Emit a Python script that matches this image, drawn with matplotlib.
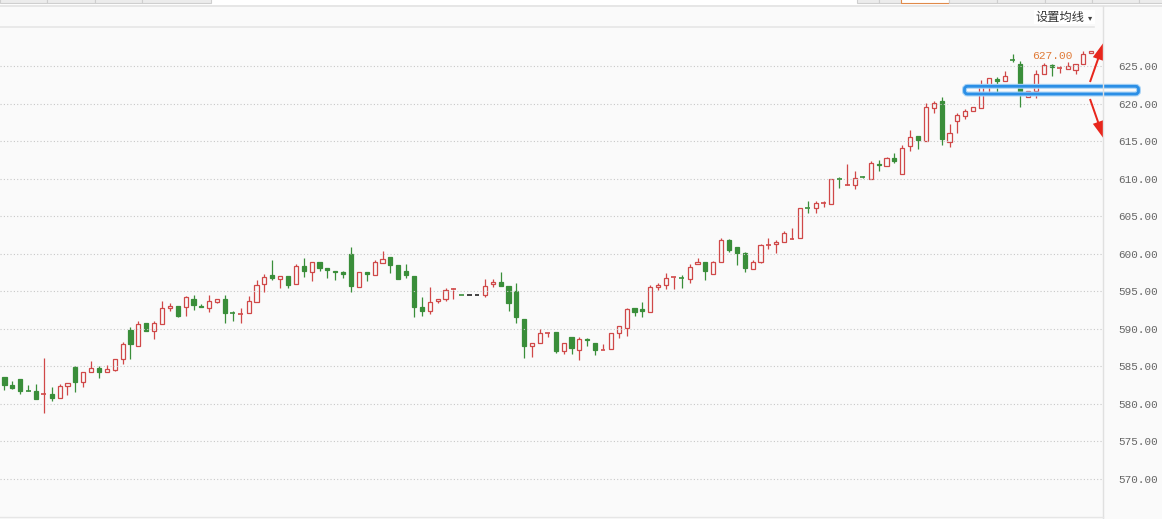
import matplotlib.pyplot as plt
from matplotlib.patches import Rectangle, FancyArrow, FancyBboxPatch
from matplotlib.lines import Line2D

# daily K-line data (open, high, low, close)
opens = [583.58, 582.52, 583.32, 581.72, 581.73, 581.28, 581.33, 580.75, 582.35, 584.96,
         582.88, 584.2, 584.78, 584.2, 584.51, 585.93, 589.82, 587.74, 590.75, 589.65,
         590.58, 592.74, 593.0, 592.96, 594.03, 593.1, 592.79, 593.58, 593.94, 592.15,
         591.98, 592.17, 593.63, 596.02, 597.12, 596.64, 596.99, 596.02, 598.32, 597.62,
         598.94, 598.06, 597.75, 597.57, 600.0, 595.63, 597.62, 597.22, 598.81, 599.51,
         598.45, 597.66, 597.0, 592.89, 592.32, 593.64, 593.91, 595.2, 594.46, 594.44,
         594.44, 594.44, 595.94, 596.29, 595.67, 595.01, 591.3, 587.68, 588.08, 589.45,
         589.54, 586.98, 588.87, 587.15, 588.65, 588.08, 587.22, 587.28, 589.4, 590.15,
         592.72, 592.58, 592.19, 595.59, 595.89, 596.87, 596.75, 596.69, 598.68, 598.94,
         597.35, 598.94, 601.85, 600.93, 600.04, 598.01, 598.85, 601.13, 601.24, 601.5,
         601.97, 602.04, 606.17, 606.15, 606.7, 606.68, 610.02, 609.1, 609.2, 610.2,
         610.0, 611.99, 611.73, 612.79, 610.66, 614.33, 615.67, 615.0, 619.42, 620.27,
         614.82, 617.63, 618.39, 618.97, 619.38, 622.32, 623.21, 622.99, 625.78, 625.22,
         620.89, 621.7, 623.97, 625.09, 624.76, 624.6, 624.46, 625.27, 626.75]
highs = [583.6, 583.05, 583.32, 582.52, 582.65, 586.11, 582.21, 582.6, 582.74, 585.04,
         584.2, 585.71, 585.0, 585.18, 585.93, 588.23, 590.22, 591.02, 590.84, 591.02,
         593.67, 593.5, 593.1, 594.38, 594.47, 593.36, 594.47, 593.94, 594.47, 592.39,
         592.74, 594.42, 596.46, 597.26, 599.12, 597.08, 596.99, 598.58, 599.38, 598.94,
         598.94, 598.06, 597.75, 597.7, 600.84, 597.62, 597.62, 599.2, 600.31, 599.51,
         598.45, 598.59, 597.0, 594.17, 595.54, 593.95, 595.45, 595.45, 594.46, 594.44,
         594.44, 596.69, 596.69, 597.53, 595.67, 596.07, 591.3, 588.08, 589.98, 589.49,
         589.54, 588.08, 588.87, 588.87, 588.74, 588.08, 587.95, 589.4, 590.33, 592.76,
         592.72, 593.51, 595.81, 596.16, 597.4, 596.91, 597.13, 598.68, 599.47, 598.94,
         599.07, 602.12, 601.99, 600.93, 600.18, 599.16, 601.24, 602.08, 601.77, 602.96,
         603.41, 606.15, 607.08, 607.08, 606.99, 610.0, 610.22, 611.9, 611.06, 610.4,
         612.39, 612.43, 612.92, 613.45, 614.51, 616.47, 615.67, 620.13, 620.4, 620.85,
         617.28, 618.71, 619.33, 619.6, 623.08, 623.44, 623.53, 624.38, 626.56, 625.63,
         621.61, 624.51, 625.45, 625.31, 624.96, 625.58, 625.22, 626.95, 627.0]
lows = [581.9, 581.99, 581.37, 581.68, 580.71, 578.76, 580.4, 580.75, 581.24, 581.64,
        582.3, 584.2, 583.5, 584.2, 584.42, 585.35, 586.02, 587.74, 589.73, 588.67,
        590.58, 592.4, 591.55, 591.68, 592.52, 592.96, 592.26, 593.5, 590.8, 591.06,
        590.8, 592.17, 593.63, 594.96, 596.5, 595.49, 595.44, 596.02, 596.91, 596.38,
        597.7, 596.78, 596.5, 596.78, 594.92, 595.63, 596.38, 597.22, 598.81, 597.48,
        596.64, 596.78, 591.61, 591.74, 592.01, 593.42, 593.64, 594.0, 594.44, 594.44,
        594.44, 594.17, 595.63, 595.72, 592.41, 590.82, 586.05, 586.27, 588.08, 588.87,
        586.8, 586.58, 586.58, 585.83, 587.68, 586.53, 587.22, 587.28, 588.74, 589.05,
        591.74, 591.61, 592.19, 595.23, 595.28, 595.28, 595.41, 596.16, 598.68, 596.47,
        597.35, 598.94, 600.22, 598.45, 597.57, 598.01, 598.72, 600.62, 600.13, 601.5,
        601.97, 602.04, 605.44, 605.44, 606.24, 606.68, 608.76, 609.1, 608.58, 610.1,
        610.0, 611.02, 611.73, 612.08, 610.66, 613.62, 613.88, 615.0, 618.7, 614.46,
        614.24, 616.07, 617.9, 618.97, 619.38, 621.47, 621.47, 622.99, 625.54, 619.51,
        620.89, 620.8, 623.97, 623.66, 624.06, 624.6, 623.93, 625.27, 626.75]
closes = [582.57, 582.17, 581.73, 581.68, 580.71, 581.32, 580.84, 582.39, 582.74, 582.96,
          584.2, 584.73, 584.29, 584.6, 585.93, 587.92, 588.0, 590.58, 589.73, 590.71,
          592.79, 593.0, 591.68, 594.2, 593.19, 592.96, 593.67, 593.94, 592.12, 592.1,
          592.02, 593.67, 595.88, 596.86, 596.77, 596.99, 595.84, 598.32, 597.66, 598.94,
          598.1, 597.88, 597.57, 597.35, 595.72, 597.62, 597.31, 598.85, 599.34, 598.5,
          596.64, 597.17, 592.94, 592.41, 593.55, 593.95, 595.23, 595.27, 594.44, 594.44,
          594.44, 595.76, 596.29, 595.72, 593.47, 591.61, 587.77, 588.08, 589.4, 589.49,
          586.98, 588.08, 587.42, 588.61, 588.48, 587.24, 587.26, 589.4, 590.33, 592.63,
          592.19, 592.32, 595.63, 595.89, 596.82, 596.91, 596.71, 598.28, 598.94, 597.7,
          598.94, 601.85, 600.49, 600.09, 598.1, 598.94, 601.11, 601.17, 601.5, 602.7,
          602.01, 606.15, 606.13, 606.81, 606.74, 610.0, 609.98, 609.13, 610.13, 610.16,
          612.12, 611.86, 612.79, 612.35, 614.12, 615.58, 615.13, 619.55, 620.04, 615.22,
          616.12, 618.53, 619.06, 619.6, 622.37, 623.35, 622.99, 623.62, 625.74, 621.29,
          621.61, 623.97, 625.09, 624.87, 624.8, 624.96, 625.22, 626.56, 627.0]
y_ticks = [570, 575, 580, 585, 590, 595, 600, 605, 610, 615, 620, 625]

RED = '#d04848'
GREEN = '#3a8e3a'
BG = '#fafafa'

fig = plt.figure(figsize=(11.62, 5.19), dpi=100)
fig.patch.set_facecolor(BG)

ax = fig.add_axes([0, 2 / 519, 1103 / 1162, 490 / 519])
ax.set_facecolor(BG)
ax.set_xlim(-0.571, 139.49)
ax.set_ylim(564.94, 630.19)

w = 0.52
for i, (o, h, l, c) in enumerate(zip(opens, highs, lows, closes)):
    if c > o:
        col = RED
    elif c < o:
        col = GREEN
    else:
        col = '#222222'
    top, bot = max(o, c), min(o, c)
    if h > top:
        ax.vlines(i, top, h, color=col, lw=0.9)
    if l < bot:
        ax.vlines(i, l, bot, color=col, lw=0.9)
    if top - bot < 0.12:
        ax.hlines((o + c) / 2, i - w / 2 - 0.05, i + w / 2 + 0.05, color=col, lw=1.2)
    else:
        face = BG if c > o else col
        ax.add_patch(Rectangle((i - w / 2, bot), w, top - bot,
                               facecolor=face, edgecolor=col, lw=0.9))

# max price marker
ax.text(135.6, 626.33, f'{max(highs):.2f}', ha='right', va='center',
        color='#e07b39', fontsize=8.1, family='Liberation Mono')

ax.set_xticks([])
ax.set_yticks(y_ticks)
ax.set_yticklabels([f'{v:.2f}' for v in y_ticks], family='Liberation Mono')
ax.yaxis.tick_right()
ax.tick_params(axis='y', length=0, pad=11.3, labelsize=7.9, labelcolor='#666666')
ax.grid(axis='y', color='#c8c8c8', linestyle=(0, (1, 2)), lw=0.8)
for s in ax.spines.values():
    s.set_visible(False)

# overlay in pixel coords for the page chrome and the hand-drawn marks
ov = fig.add_axes([0, 0, 1, 1])
ov.set_xlim(0, 1162)
ov.set_ylim(519, 0)
ov.axis('off')
ov.patch.set_alpha(0)

ov.add_patch(Rectangle((0, 0), 1162, 5.3, facecolor='white', edgecolor='none'))
tabs_left = [0, 47, 94.7, 141.7, 211]
tabs_right = [857.3, 879.3, 900.7, 949.3, 997.3, 1044.7, 1091.7, 1138.7, 1163]
for edges in (tabs_left, tabs_right):
    for a, b in zip(edges[:-1], edges[1:]):
        orange = (a == 900.7)
        ov.add_patch(Rectangle((a, -2), b - a, 5.3,
                               facecolor='white' if orange else '#ececec',
                               edgecolor='#e08a4a' if orange else '#cfcfcf', lw=0.8))
ov.add_line(Line2D([0, 1162], [5.6, 5.6], color='#e2e2e2', lw=1.2))
ov.add_line(Line2D([0, 1094], [27, 27], color='#e6e6e6', lw=1.2))
ov.add_line(Line2D([1103.3, 1103.3], [5.6, 519], color='#e0e0e0', lw=1.0))
ov.add_line(Line2D([0, 1103], [517.3, 517.3], color='#e6e6e6', lw=1.0))

ov.add_patch(Rectangle((1034, 10), 61, 14, facecolor='white', edgecolor='none'))
ov.text(1035, 17, '设置均线', family=['Noto Sans CJK SC', 'DejaVu Sans'],
        fontsize=8.8, va='center', ha='left', color='#333333')
ov.text(1090.5, 17.5, '▾', family='DejaVu Sans', fontsize=6, va='center',
        ha='center', color='#444444')

# blue highlight box
ov.add_patch(FancyBboxPatch((964.5, 86.3), 174, 7.7, boxstyle='round,pad=0,rounding_size=3',
                            facecolor='none', edgecolor='#a9d3f5', lw=3.6))
ov.add_patch(FancyBboxPatch((964.5, 86.3), 174, 7.7, boxstyle='round,pad=0,rounding_size=3',
                            facecolor='none', edgecolor='#2b8fe6', lw=2.0))

# red arrows
ov.add_patch(FancyArrow(1090, 82, 14, -40, width=2.0, head_width=11, head_length=18,
                        length_includes_head=True, facecolor='#e8261c', edgecolor='none'))
ov.add_patch(FancyArrow(1090, 99, 14, 40, width=2.0, head_width=11, head_length=18,
                        length_includes_head=True, facecolor='#e8261c', edgecolor='none'))

fig.savefig('out.png', dpi=100, facecolor=fig.get_facecolor())
